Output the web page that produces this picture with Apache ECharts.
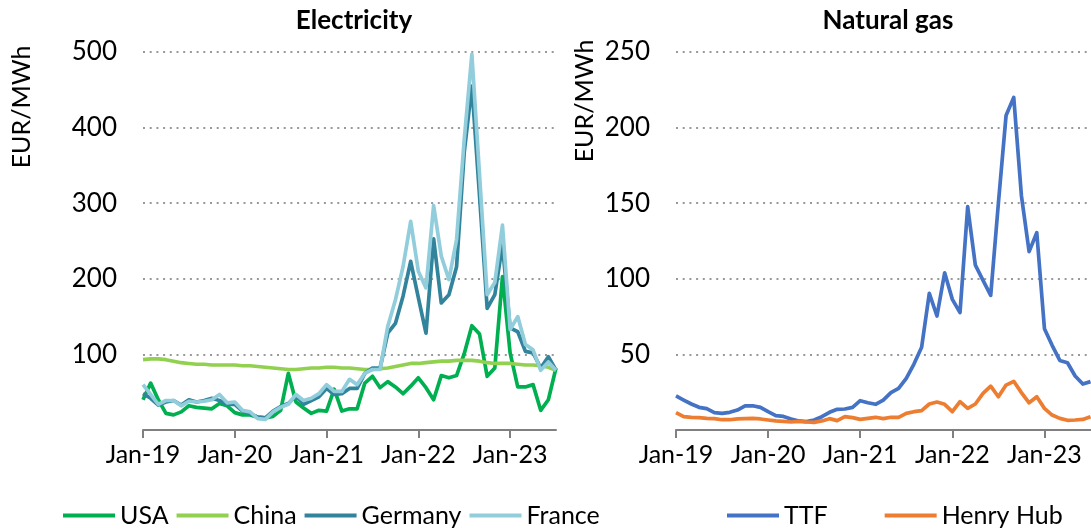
<!DOCTYPE html>
<html>
<head>
<meta charset="utf-8">
<style>
  html, body { margin: 0; padding: 0; background: #fff; }
  #main { width: 1091px; height: 529px; }
</style>
<script src="https://cdn.jsdelivr.net/npm/echarts@6/dist/echarts.min.js"></script>
</head>
<body>
<div id="main"></div>
<script>
// monthly, Jan-19 .. Jul-23
const monthNames = ["Jan", "Feb", "Mar", "Apr", "May", "Jun", "Jul", "Aug", "Sep", "Oct", "Nov", "Dec"];
const categories = [];
for (let y = 19; y <= 23; y++) {
  for (let m = 0; m < 12; m++) {
    if (y === 23 && m > 6) break;
    categories.push(monthNames[m] + "-" + y);
  }
}

// Electricity, EUR/MWh
const usa = [40, 62, 40, 22, 20, 24, 32, 30, 29, 28, 35, 32, 23, 20, 20, 17, 16, 18, 26, 75,
  37, 29, 22, 26, 25, 54, 25, 28, 28, 62, 71, 56, 64, 57, 48, 58, 69, 56, 40, 72,
  69, 72, 101, 138, 127, 71, 82, 203, 102, 57, 57, 60, 26, 40, 82];
const china = [93, 94, 94, 93, 91, 89, 88, 87, 87, 86, 86, 86, 86, 85, 85, 84, 83, 82, 81, 80,
  80, 81, 82, 82, 83, 83, 82, 82, 81, 80, 80, 81, 82, 84, 86, 88, 88, 89, 90, 91,
  91, 92, 92, 92, 91, 89, 88, 88, 88, 87, 86, 86, 85, 83, 79];
const germany = [48, 42, 33, 37, 39, 33, 40, 37, 39, 42, 39, 34, 34, 25, 22, 17, 16, 25, 31, 35,
  45, 34, 39, 44, 55, 47, 48, 55, 55, 75, 82, 82, 128, 141, 177, 223, 175, 128, 253, 168,
  179, 216, 367, 455, 310, 161, 179, 245, 135, 130, 104, 102, 82, 97, 79];
const france = [60, 47, 34, 39, 39, 32, 38, 37, 38, 40, 47, 36, 37, 26, 24, 15, 14, 24, 30, 34,
  47, 39, 42, 48, 60, 51, 51, 67, 60, 75, 80, 80, 137, 172, 216, 276, 210, 188, 297, 230,
  199, 252, 384, 497, 338, 179, 195, 271, 133, 150, 113, 106, 79, 90, 79];

// Natural gas, EUR/MWh
const ttf = [22.5, 19.8, 17.2, 15, 14.1, 11.5, 11, 11.7, 13.2, 16, 16, 15, 12.1, 9.5, 9, 7.3, 6, 5.6, 6.6, 8.8,
  11.7, 13.7, 13.9, 15, 19.4, 18, 17, 19.8, 24.7, 27.5, 34.2, 43.6, 54.7, 90.4, 75.4, 104, 86.4, 77.6, 147.7, 109,
  99, 89, 150, 208, 220, 155, 118, 130.5, 67, 56, 46, 44.5, 35.7, 30.4, 32];
const henryHub = [11.5, 8.8, 8.4, 8.2, 7.7, 7.5, 6.8, 6.8, 7.3, 7.5, 7.7, 7.3, 6.6, 6, 5.7, 5.3, 5.7, 5.3, 5, 6,
  7.5, 6.2, 8.8, 8.2, 7, 7.7, 8.4, 7.5, 8.4, 8.4, 11, 12.1, 12.8, 17.2, 18.5, 17, 12.1, 18.7, 14.3, 17.2,
  24.2, 29, 22, 29.7, 32.2, 24.7, 18, 22, 14.3, 9.9, 7.7, 6.4, 6.6, 7, 8.8];

const FONT = "Lato";
const everyYear = function (idx) { return idx % 12 === 0; };

function makeXAxis(gridIndex) {
  return {
    type: "category",
    gridIndex: gridIndex,
    data: categories,
    boundaryGap: false,
    axisLine: { lineStyle: { color: "#808080", width: 2 } },
    axisTick: { interval: everyYear, length: 8, lineStyle: { color: "#808080", width: 2 } },
    axisLabel: { interval: everyYear, color: "#000", fontFamily: FONT, fontSize: 25, margin: 12 },
    splitLine: { show: false }
  };
}

function makeYAxis(gridIndex, max, step) {
  return {
    type: "value",
    gridIndex: gridIndex,
    min: 0,
    max: max,
    interval: step,
    axisLine: { show: false },
    axisTick: { show: false },
    axisLabel: { showMinLabel: false, color: "#000", fontFamily: FONT, fontSize: 26, margin: 26 },
    splitLine: { lineStyle: { color: "#999", width: 2, type: [2, 4.7] } }
  };
}

function line(name, data, color, axis) {
  return {
    name: name,
    type: "line",
    xAxisIndex: axis,
    yAxisIndex: axis,
    data: data,
    symbol: "none",
    lineStyle: { width: 3.7, color: color, join: "round" },
    itemStyle: { color: color },
    emphasis: { disabled: true },
    animation: false
  };
}

const myChart = echarts.init(document.getElementById("main"));
myChart.setOption({
  animation: false,
  title: [
    { text: "Electricity", left: 349, top: 3, textAlign: "center",
      textStyle: { fontFamily: FONT, fontSize: 26, fontWeight: "bold", color: "#000" } },
    { text: "Natural gas", left: 883, top: 3, textAlign: "center",
      textStyle: { fontFamily: FONT, fontSize: 26, fontWeight: "bold", color: "#000" } }
  ],
  legend: [
    { data: ["USA", "China", "Germany", "France"], left: 63, top: 503, padding: 0,
      icon: "rect", itemWidth: 52, itemHeight: 4, itemGap: 8,
      textStyle: { fontFamily: FONT, fontSize: 25, color: "#000" } },
    { data: ["TTF", "Henry Hub"], left: 727, top: 503, padding: 0,
      icon: "rect", itemWidth: 52, itemHeight: 4, itemGap: 57,
      textStyle: { fontFamily: FONT, fontSize: 25, color: "#000" } }
  ],
  grid: [
    { left: 143, top: 52, width: 413, height: 378 },
    { left: 676, top: 52, width: 414.5, height: 378 }
  ],
  xAxis: [makeXAxis(0), makeXAxis(1)],
  yAxis: [makeYAxis(0, 500, 100), makeYAxis(1, 250, 50)],
  graphic: [
    { type: "text", x: 22, y: 107, rotation: Math.PI / 2,
      style: { text: "EUR/MWh", fontFamily: FONT, fontSize: 25, fill: "#000", align: "center", verticalAlign: "middle" } },
    { type: "text", x: 585, y: 101, rotation: Math.PI / 2,
      style: { text: "EUR/MWh", fontFamily: FONT, fontSize: 25, fill: "#000", align: "center", verticalAlign: "middle" } }
  ],
  series: [
    line("USA", usa, "#00B050", 0),
    line("China", china, "#92D050", 0),
    line("Germany", germany, "#31849B", 0),
    line("France", france, "#92CDDC", 0),
    line("TTF", ttf, "#4472C4", 1),
    line("Henry Hub", henryHub, "#ED7D31", 1)
  ]
});
</script>
</body>
</html>
